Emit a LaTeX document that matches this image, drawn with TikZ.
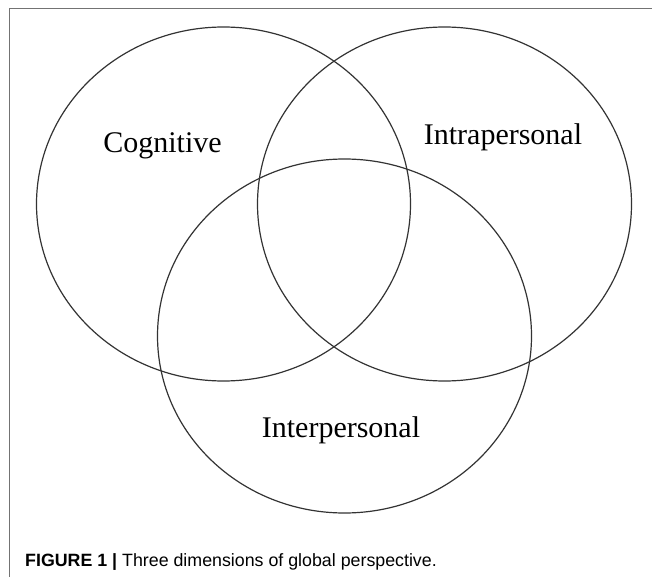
\documentclass[tikz,border=0pt]{standalone}
\usepackage{fontspec}
\setmainfont{Liberation Serif}
\newfontfamily\capfont{Liberation Sans}
\usepackage{tikz}
\usetikzlibrary{shapes}

\begin{document}
\begin{tikzpicture}[x=1pt, y=-1pt,
  ring/.style={draw=black!80, ellipse, line width=1.2pt, inner sep=0pt, minimum width=374pt, minimum height=354pt},
  word/.style={anchor=base, font=\fontsize{30}{30}\selectfont}]
\useasboundingbox (0,0) rectangle (652,577);

% frame on top and left
\draw[black!55, line width=0.9pt] (9,577) -- (9,8) -- (652,8);

\node[ring] (cog) at (223.5,204) {};
\node[ring] (intra) at (444.5,204) {};
\node[ring] (inter) at (344.5,336) {};

\node[word] (coglabel) at (162.5,153) {Cognitive};
\node[word] (intralabel) at (503,145) {Intrapersonal};
\node[word] (interlabel) at (341,437) {Interpersonal};

\node[anchor=base west, inner sep=0pt, font=\capfont\fontsize{17.8}{17.8}\selectfont] (caption) at (25,566)
  {\textbf{FIGURE 1 |} Three dimensions of global perspective.};
\end{tikzpicture}
\end{document}
